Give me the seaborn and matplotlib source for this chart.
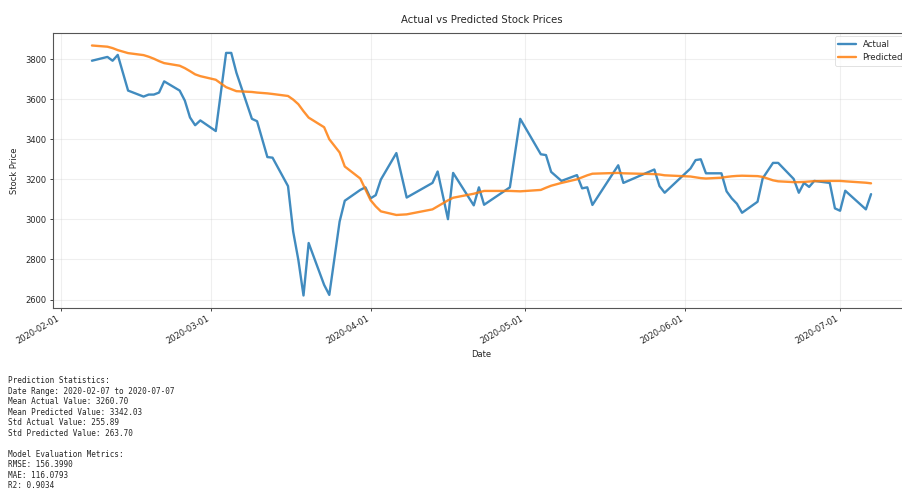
import matplotlib
matplotlib.use("Agg")
import matplotlib.pyplot as plt
import matplotlib.dates as mdates
import numpy as np
import pandas as pd
import seaborn as sns

# Trading dates of the evaluation window
dates = [
    "2020-02-07", "2020-02-10", "2020-02-11", "2020-02-12", "2020-02-14", "2020-02-17", "2020-02-18", "2020-02-19", "2020-02-20", "2020-02-21",
    "2020-02-24", "2020-02-25", "2020-02-26", "2020-02-27", "2020-02-28", "2020-03-02", "2020-03-04", "2020-03-05", "2020-03-06", "2020-03-09",
    "2020-03-10", "2020-03-12", "2020-03-13", "2020-03-16", "2020-03-17", "2020-03-18", "2020-03-19", "2020-03-20", "2020-03-23", "2020-03-24",
    "2020-03-26", "2020-03-27", "2020-03-30", "2020-03-31", "2020-04-01", "2020-04-02", "2020-04-03", "2020-04-06", "2020-04-08", "2020-04-13",
    "2020-04-14", "2020-04-16", "2020-04-17", "2020-04-21", "2020-04-22", "2020-04-23", "2020-04-28", "2020-04-30", "2020-05-04", "2020-05-05",
    "2020-05-06", "2020-05-08", "2020-05-11", "2020-05-12", "2020-05-13", "2020-05-14", "2020-05-19", "2020-05-20", "2020-05-26", "2020-05-27",
    "2020-05-28", "2020-06-02", "2020-06-03", "2020-06-04", "2020-06-05", "2020-06-08", "2020-06-09", "2020-06-10", "2020-06-11", "2020-06-12",
    "2020-06-15", "2020-06-16", "2020-06-18", "2020-06-19", "2020-06-22", "2020-06-23", "2020-06-24", "2020-06-25", "2020-06-26", "2020-06-29",
    "2020-06-30", "2020-07-01", "2020-07-02", "2020-07-06", "2020-07-07",
]

# Closing prices
actual = [
    3792, 3811, 3792, 3821, 3643, 3613, 3623, 3623, 3633, 3689,
    3643, 3593, 3509, 3470, 3494, 3441, 3831, 3831, 3732, 3502,
    3490, 3311, 3308, 3166, 2939, 2798, 2620, 2882, 2673, 2623,
    2989, 3093, 3147, 3160, 3105, 3121, 3199, 3331, 3109, 3182,
    3239, 3001, 3232, 3070, 3160, 3073, 3160, 3502, 3325, 3321,
    3237, 3192, 3221, 3155, 3160, 3072, 3270, 3182, 3249, 3166,
    3133, 3254, 3296, 3300, 3230, 3230, 3140, 3105, 3078, 3033,
    3088, 3205, 3282, 3282, 3202, 3133, 3182, 3162, 3192, 3182,
    3055, 3043, 3143, 3050, 3126,
]

# Model output for the same dates
predicted = [
    3868, 3862, 3855, 3845, 3830, 3820, 3812, 3802, 3790, 3780,
    3767, 3755, 3740, 3724, 3715, 3697, 3660, 3650, 3640, 3636,
    3633, 3629, 3626, 3616, 3598, 3575, 3540, 3508, 3460, 3400,
    3334, 3264, 3204, 3150, 3096, 3065, 3040, 3022, 3025, 3050,
    3065, 3095, 3108, 3128, 3135, 3142, 3142, 3140, 3147, 3158,
    3168, 3182, 3200, 3210, 3220, 3228, 3232, 3230, 3226, 3224,
    3220, 3214, 3210, 3206, 3204, 3208, 3212, 3215, 3217, 3218,
    3216, 3212, 3195, 3190, 3186, 3186, 3187, 3189, 3191, 3192,
    3192, 3192, 3190, 3183, 3180,
]

stats_lines = [
    "Prediction Statistics:",
    "Date Range: 2020-02-07 to 2020-07-07",
    "Mean Actual Value: 3260.70",
    "Mean Predicted Value: 3342.03",
    "Std Actual Value: 255.89",
    "Std Predicted Value: 263.70",
    "",
    "Model Evaluation Metrics:",
    "RMSE: 156.3990",
    "MAE: 116.0793",
    "R2: 0.9034",
]

df = pd.DataFrame({
    "Date": pd.to_datetime(dates),
    "Actual": actual,
    "Predicted": predicted,
})
long_df = df.melt(id_vars="Date", var_name="Series", value_name="Price")

sns.set_style("ticks")
plt.rcParams["font.family"] = ["DejaVu Sans"]

fig = plt.figure(figsize=(9.02, 4.94), dpi=100)
ax = fig.add_axes([53 / 902, 1 - 308 / 494, 857 / 902, 275 / 494])

sns.lineplot(
    data=long_df, x="Date", y="Price", hue="Series",
    palette={"Actual": "#1f77b4", "Predicted": "#ff7f0e"},
    linewidth=1.7, alpha=0.85, ax=ax,
)

ax.set_title("Actual vs Predicted Stock Prices", fontsize=7.3, pad=7)
ax.set_xlabel("Date", fontsize=6, labelpad=3)
ax.set_ylabel("Stock Price", fontsize=6, labelpad=5)
ax.grid(True, alpha=0.3)
ax.xaxis.set_major_locator(mdates.MonthLocator())
ax.xaxis.set_major_formatter(mdates.DateFormatter("%Y-%m-%d"))
ax.tick_params(labelsize=6, length=2.5, width=0.6, pad=2)
for lab in ax.get_xticklabels():
    lab.set_rotation(30)
    lab.set_ha("right")
for sp in ax.spines.values():
    sp.set_visible(True)
    sp.set_color("#555555")
    sp.set_linewidth(0.8)

leg = ax.legend(loc="upper right", fontsize=6.2, frameon=True, title=None,
                borderaxespad=0.4)
leg.get_frame().set_linewidth(0.5)

fig.text(8 / 902, 1 - 376 / 494, "\n".join(stats_lines), family="DejaVu Sans Mono",
         fontsize=5.5, va="top", ha="left", linespacing=1.22)

fig.savefig("out.png", dpi=100)
